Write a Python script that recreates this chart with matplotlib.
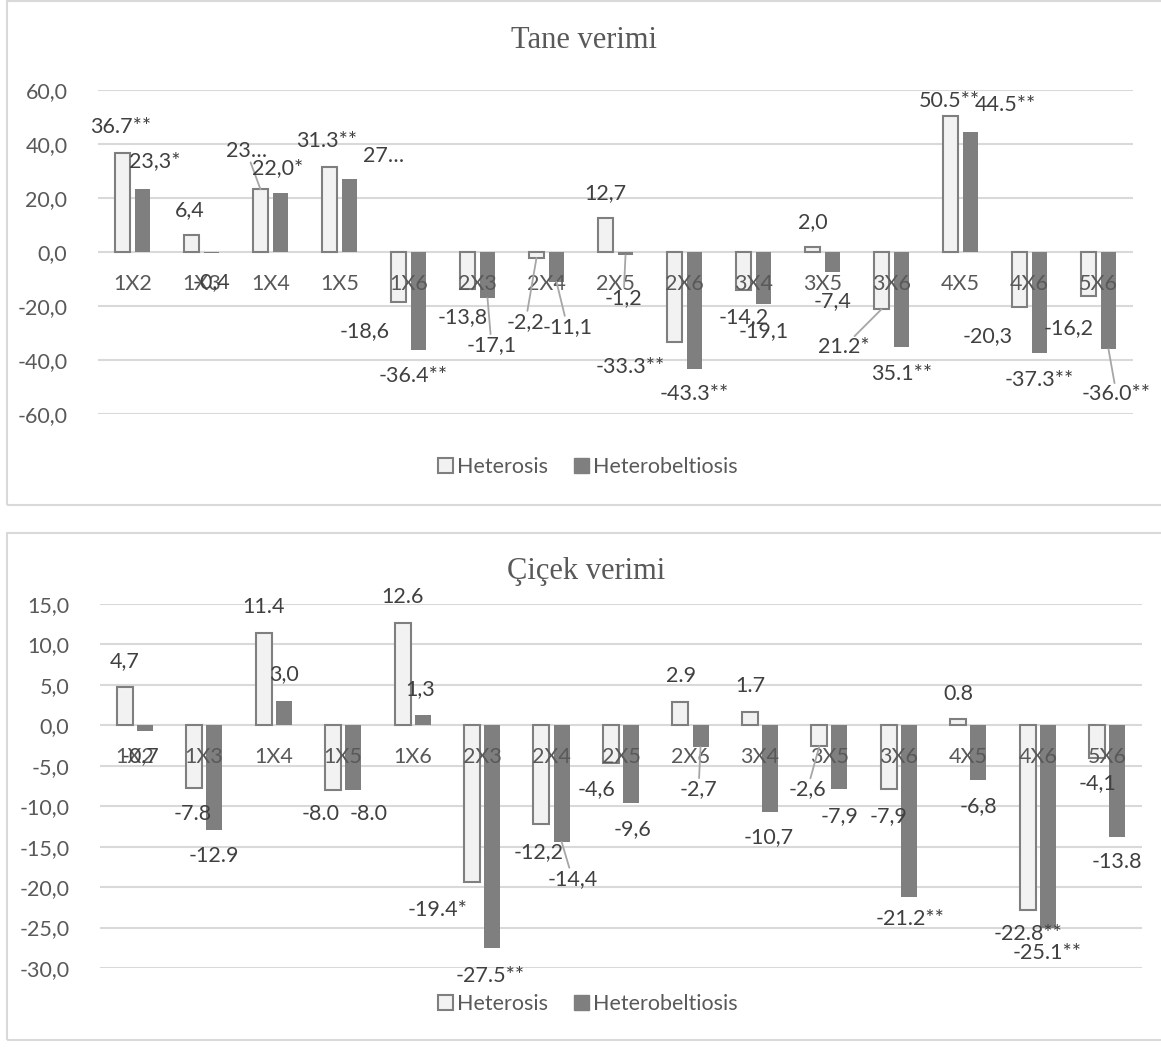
"""
Heterosis / heterobeltiosis bar charts for grain and flower yield.
"""
import matplotlib
matplotlib.use("Agg")
import matplotlib.pyplot as plt
import matplotlib.patches as mpatches
from matplotlib.ticker import FuncFormatter, MultipleLocator

plt.rcParams['font.family'] = ['Lato', 'DejaVu Sans']

crosses = ["1X2", "1X3", "1X4", "1X5", "1X6", "2X3", "2X4", "2X5",
           "2X6", "3X4", "3X5", "3X6", "4X5", "4X6", "5X6"]

# Tane verimi
tane_het = [36.7, 6.4, 23.2, 31.3, -18.6, -13.8, -2.2, 12.7, -33.3, -14.2, 2.0, -21.2, 50.5, -20.3, -16.2]
tane_hb = [23.3, -0.4, 22.0, 27.0, -36.4, -17.1, -11.1, -1.2, -43.3, -19.1, -7.4, -35.1, 44.5, -37.3, -36.0]
tane_het_lbl = ["36.7**", "6,4", "23…", "31.3**", "-18,6", "-13,8", "-2,2", "12,7",
                "-33.3**", "-14,2", "2,0", "21.2*", "50.5**", "-20,3", "-16,2"]
tane_hb_lbl = ["23,3*", "-0,4", "22,0*", "27…", "-36.4**", "-17,1", "-11,1", "-1,2",
               "-43.3**", "-19,1", "-7,4", "35.1**", "44.5**", "-37.3**", "-36.0**"]

# Çiçek verimi
cicek_het = [4.7, -7.8, 11.4, -8.0, 12.6, -19.4, -12.2, -4.6, 2.9, 1.7, -2.6, -7.9, 0.8, -22.8, -4.1]
cicek_hb = [-0.7, -12.9, 3.0, -8.0, 1.3, -27.5, -14.4, -9.6, -2.7, -10.7, -7.9, -21.2, -6.8, -25.1, -13.8]
cicek_het_lbl = ["4,7", "-7.8", "11.4", "-8.0", "12.6", "-19.4*", "-12,2", "-4,6",
                 "2.9", "1.7", "-2,6", "-7,9", "0.8", "-22.8**", "-4,1"]
cicek_hb_lbl = ["-0,7", "-12.9", "3,0", "-8.0", "1,3", "-27.5**", "-14,4", "-9,6",
                "-2,7", "-10,7", "-7,9", "-21.2**", "-6,8", "-25.1**", "-13.8"]

# label offsets (pixels from the bar end) and leader-line flags
tane_het_off = [(-2, 26), (-2, 25), (-14, 38), (-3, 26), (-34, -29), (-5, -28), (-11, -64), (0, 25),
                (-44, -25), (0, -27), (0, 25), (-38, -38), (-1, 15), (-32, -29), (-20, -32)]
tane_hb_off = [(12, 28), (0, -29), (-3, 25), (34, 23), (-5, -26), (4, -47), (11, -45), (-2, -43),
               (0, -25), (0, -28), (0, -29), (0, -27), (35, 27), (0, -27), (8, -45)]
tane_het_lead = [2, 6, 11]
tane_hb_lead = [5, 6, 7, 14]

cicek_het_off = [(0, 26), (-1, -26), (0, 26), (-12, -24), (0, 26), (-34, -28), (-3, -28), (-14, -27),
                 (1, 26), (0, 26), (-12, -43), (0, -27), (0, 25), (0, -24), (0, -25)]
cicek_hb_off = [(-4, -25), (0, -26), (0, 27), (15, -24), (-3, 26), (-2, -28), (11, -37), (1, -26),
                (-2, -42), (-1, -25), (0, -27), (1, -22), (0, -26), (-1, -25), (0, -25)]
cicek_het_lead = [10]
cicek_hb_lead = [6, 8]

LIGHT = '#f2f2f2'
DARK = '#7f7f7f'
GRID = '#d9d9d9'
TICK = '#595959'
LABEL = '#404040'
FS = 15.5
W = 1161
H = 1050


def comma_fmt(v, pos):
    return f"{v:.1f}".replace('.', ',')


def draw_chart(ax, het, hb, het_lbl, hb_lbl, het_off, hb_off, het_lead, hb_lead, ylim, step):
    x = list(range(len(crosses)))
    xh = [i - 0.145 for i in x]
    xb = [i + 0.145 for i in x]
    ax.bar(xh, het, width=0.23, color=LIGHT, edgecolor=DARK, linewidth=1.5, zorder=2)
    ax.bar(xb, hb, width=0.23, color=DARK, zorder=2)

    ax.set_xlim(-0.5, len(crosses) - 0.5)
    ax.set_ylim(*ylim)
    ax.yaxis.set_major_locator(MultipleLocator(step))
    ax.yaxis.set_major_formatter(FuncFormatter(comma_fmt))
    ax.grid(axis='y', color=GRID, linewidth=1.5, zorder=0)
    ax.set_axisbelow(True)
    ax.set_xticks([])
    ax.tick_params(axis='y', length=0, pad=22, labelsize=FS, labelcolor=TICK)
    for s in ax.spines.values():
        s.set_visible(False)

    for i, c in enumerate(crosses):
        ax.annotate(c, xy=(i, 0), xytext=(0, -32), textcoords='offset pixels',
                    ha='center', va='center', fontsize=FS, color=TICK, zorder=5)

    for xs, vals, lbls, offs, lead in [(xh, het, het_lbl, het_off, het_lead),
                                       (xb, hb, hb_lbl, hb_off, hb_lead)]:
        for i in range(len(vals)):
            kw = {}
            if i in lead:
                kw['arrowprops'] = dict(arrowstyle='-', color='#a6a6a6', lw=1.3,
                                        shrinkA=0, shrinkB=0)
            ax.annotate(lbls[i], xy=(xs[i], vals[i]), xytext=offs[i], textcoords='offset pixels',
                        ha='center', va='center', fontsize=FS, color=LABEL, zorder=6,
                        bbox=dict(boxstyle='square,pad=0.05', fc='none', ec='none'),
                        annotation_clip=False, **kw)


fig = plt.figure(figsize=(W / 100, H / 100), dpi=100)

# chart frames
fig.patches.append(mpatches.Rectangle((7 / W, 1 - 505 / H), 1.2, 504 / H, transform=fig.transFigure,
                                      fill=False, ec=GRID, lw=1.5))
fig.patches.append(mpatches.Rectangle((7 / W, 1 - 1040 / H), 1.2, 507 / H, transform=fig.transFigure,
                                      fill=False, ec=GRID, lw=1.5))

ax1 = fig.add_axes([98 / W, 1 - 414 / H, 1035 / W, 324 / H])
draw_chart(ax1, tane_het, tane_hb, tane_het_lbl, tane_hb_lbl, tane_het_off, tane_hb_off,
           tane_het_lead, tane_hb_lead, (-60, 60), 20)

ax2 = fig.add_axes([100 / W, 1 - 968 / H, 1042 / W, 364 / H])
draw_chart(ax2, cicek_het, cicek_hb, cicek_het_lbl, cicek_hb_lbl, cicek_het_off, cicek_hb_off,
           cicek_het_lead, cicek_hb_lead, (-30, 15), 5)

fig.text(584 / W, 1 - 40 / H, "Tane verimi", ha='center', va='center',
         fontsize=22, color=TICK, family='Liberation Serif')
fig.text(586 / W, 1 - 572 / H, "Çiçek verimi", ha='center', va='center',
         fontsize=22, color=TICK, family='Liberation Serif')

handles = [mpatches.Patch(fc=LIGHT, ec=DARK, lw=1.5, label='Heterosis'),
           mpatches.Patch(fc=DARK, ec=DARK, label='Heterobeltiosis')]
for yc in [1 - 467 / H, 1 - 1004 / H]:
    leg = fig.legend(handles=handles, loc='center', bbox_to_anchor=(588 / W, yc), ncol=2,
                     frameon=False, fontsize=FS, handlelength=0.7, handleheight=0.7,
                     handletextpad=0.2, columnspacing=1.2, labelcolor=TICK)

fig.savefig("out.png", dpi=100)
